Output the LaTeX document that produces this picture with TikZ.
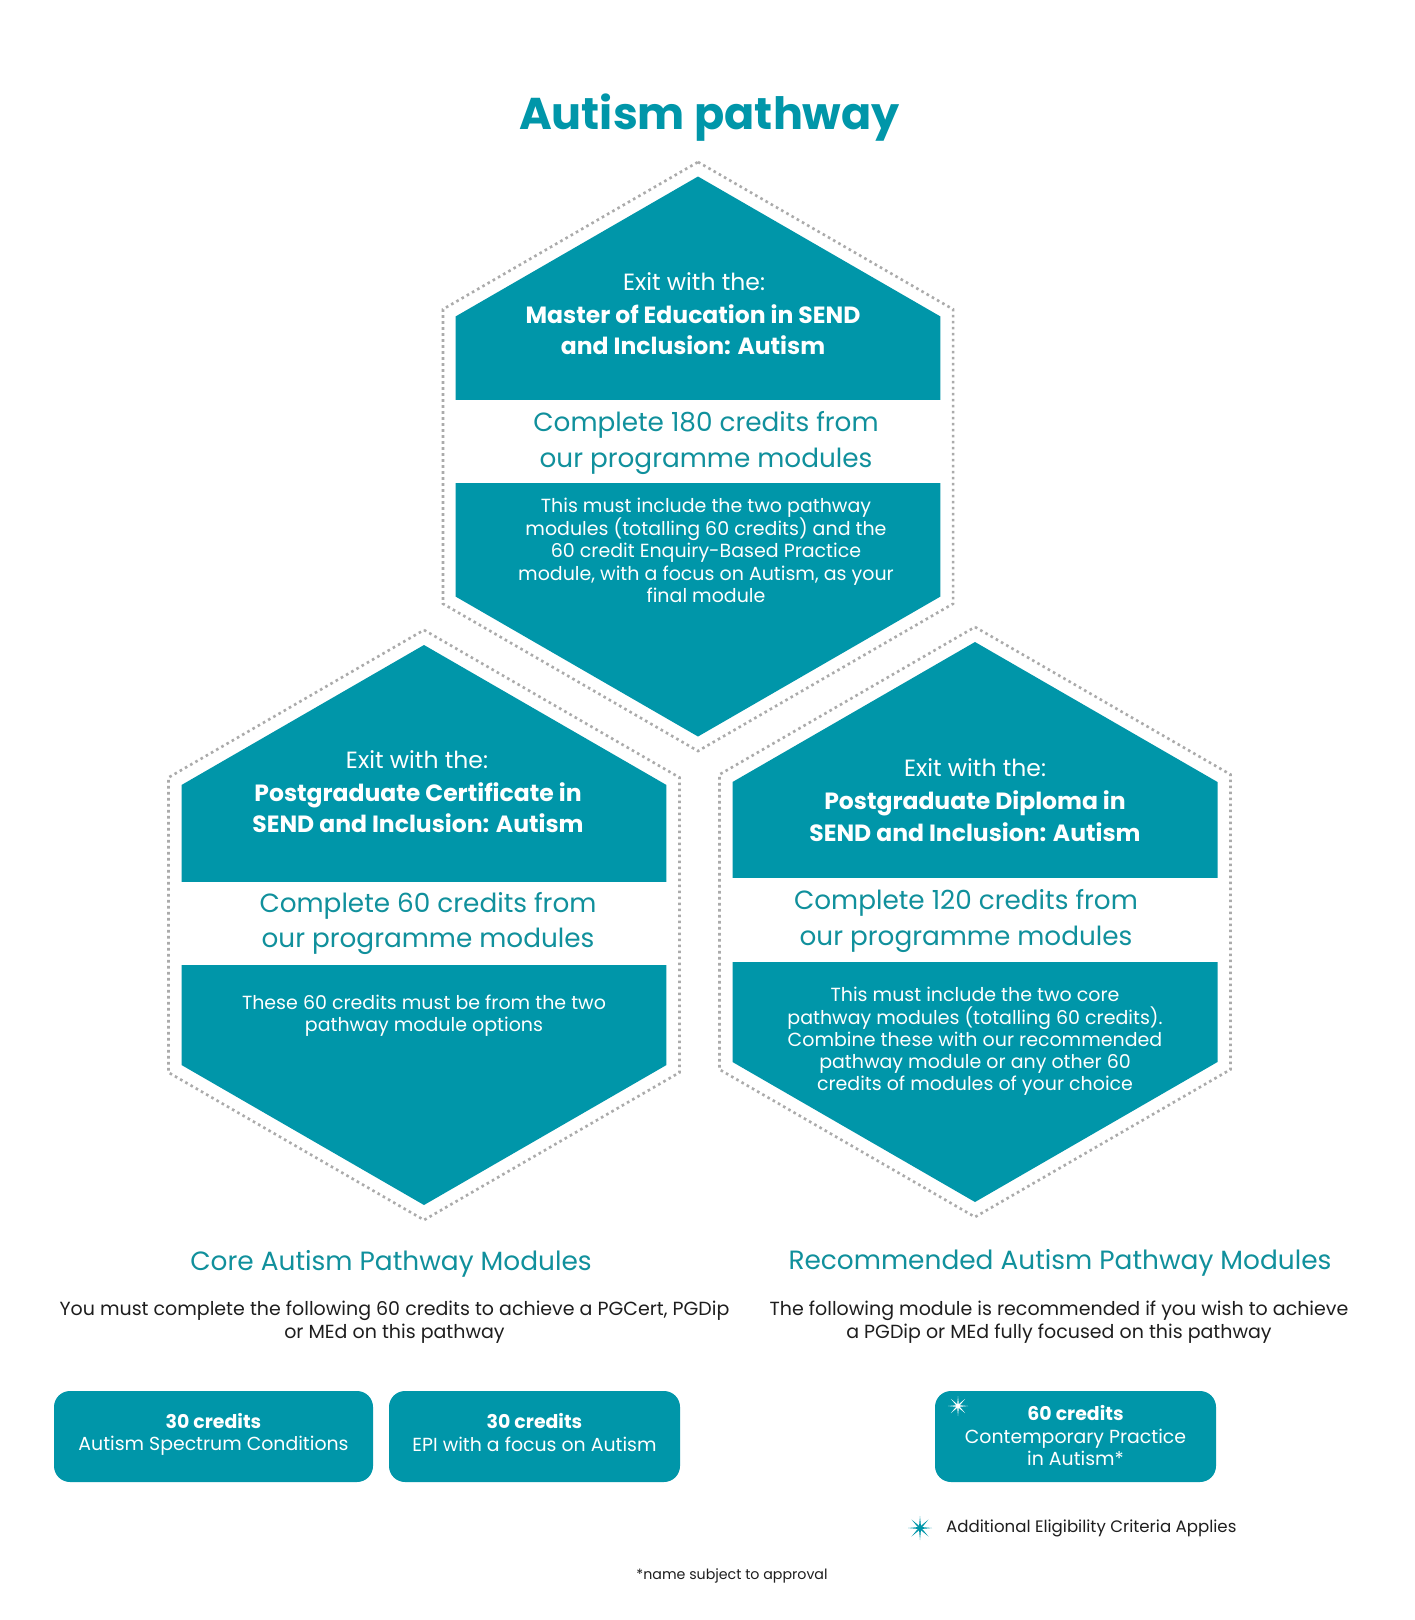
\documentclass[tikz,border=0pt]{standalone}
\usepackage{fontspec}
\setmainfont{Poppins}
\usetikzlibrary{shapes.geometric}
\definecolor{hexteal}{HTML}{0096A9}
\definecolor{headteal}{HTML}{10909C}
\definecolor{dotgray}{HTML}{ABABAB}
\definecolor{ink}{HTML}{1E1E1E}
\newcommand\hexpath[3]{(#1,{#2-#3}) -- ({#1+0.8660254*#3},{#2-0.5*#3}) -- ({#1+0.8660254*#3},{#2+0.5*#3}) -- (#1,{#2+#3}) -- ({#1-0.8660254*#3},{#2+0.5*#3}) -- ({#1-0.8660254*#3},{#2-0.5*#3}) -- cycle}
\newcommand\fs[2]{\fontsize{#1}{#2}\selectfont}
\begin{document}
\begin{tikzpicture}[x=1pt,y=-1pt,
  hexfill/.style={fill=hexteal},
  hexdots/.style={draw=dotgray, line width=2.6pt, dash pattern=on 2.6pt off 3.4pt},
  band/.style={fill=white},
  exittxt/.style={text=white, inner sep=0, align=center, font=\fs{23.5}{31.5}},
  titletxt/.style={text=white, inner sep=0, align=center, font=\fs{23.5}{31.5}\bfseries},
  reqtxt/.style={text=headteal, inner sep=0, align=center, font=\fs{26.3}{35.5}},
  bodytxt/.style={text=white, inner sep=0, align=center, font=\fs{19}{22.2}},
  headtxt/.style={text=headteal, inner sep=0, align=center, font=\fs{26.4}{30}},
  desctxt/.style={text=ink, inner sep=0, align=center, font=\fs{19}{23}},
  modbox/.style={fill=hexteal, rounded corners=16pt, inner sep=0},
  modtxt/.style={text=white, inner sep=0, align=center, font=\fs{18.9}{22.5}},
  sparkle/.style={star, star points=8, star point ratio=5, inner sep=0, draw=none},
  notetxt/.style={text=ink, inner sep=0, font=\fs{16.6}{20}}
]
\useasboundingbox[fill=white] (0,0) rectangle (1414,1620);

% title
\node[text=hexteal, inner sep=0, font=\fs{44.5}{50}\bfseries] (title) at (709.5,118) {Autism pathway};

% hexagons: dotted outlines
\draw[hexdots] \hexpath{698}{456.5}{294.5};
\draw[hexdots] \hexpath{424}{925}{295};
\draw[hexdots] \hexpath{975}{922}{295};
% hexagons: fills
\fill[hexfill] \hexpath{698}{456.5}{280};
\fill[hexfill] \hexpath{424}{925}{280};
\fill[hexfill] \hexpath{975}{922}{280};
% white bands
\fill[band] (455,399.5) rectangle (941,483);
\fill[band] (181,882) rectangle (667,965);
\fill[band] (732,878) rectangle (1218,962);

% top hexagon texts
\node[exittxt] (mexit) at (694,282) {Exit with the:};
\node[titletxt] (mtitle) at (693,329.5) {Master of Education in SEND\\and Inclusion: Autism};
\node[reqtxt] (mreq) at (706,443) {Complete 180 credits from\\our programme modules};
\node[bodytxt] (mbody) at (706,550) {This must include the two pathway\\modules (totalling 60 credits) and the\\60 credit Enquiry-Based Practice\\module, with a focus on Autism, as your\\final module};

% left hexagon texts
\node[exittxt] (cexit) at (417,760) {Exit with the:};
\node[titletxt] (ctitle) at (418,807.5) {Postgraduate Certificate in\\SEND and Inclusion: Autism};
\node[reqtxt] (creq) at (428,923.5) {Complete 60 credits from\\our programme modules};
\node[bodytxt] (cbody) at (424,1015.5) {These 60 credits must be from the two\\pathway module options};

% right hexagon texts
\node[exittxt] (dexit) at (975,768) {Exit with the:};
\node[titletxt] (dtitle) at (975,816) {Postgraduate Diploma in\\SEND and Inclusion: Autism};
\node[reqtxt] (dreq) at (966,921) {Complete 120 credits from\\our programme modules};
\node[bodytxt] (dbody) at (975,1041.5) {This must include the two core\\pathway modules (totalling 60 credits).\\Combine these with our recommended\\pathway module or any other 60\\credits of modules of your choice};

% core modules
\node[headtxt] (corehead) at (391,1264) {Core Autism Pathway Modules};
\node[desctxt] (coredesc) at (394.5,1322) {You must complete the following 60 credits to achieve a PGCert, PGDip\\or MEd on this pathway};
\node[modbox, minimum width=319pt, minimum height=91pt] (box1) at (213.5,1436.5) {};
\node[modtxt] (box1txt) at (box1.center) [yshift=2pt] {\textbf{30 credits}\\Autism Spectrum Conditions};
\node[modbox, minimum width=291pt, minimum height=91pt] (box2) at (534.5,1436.5) {};
\node[modtxt] (box2txt) at (box2.center) [yshift=4pt] {\textbf{30 credits}\\EPI with a focus on Autism};

% recommended modules
\node[headtxt] (rechead) at (1060,1263) {Recommended Autism Pathway Modules};
\node[desctxt] (recdesc) at (1059,1322.5) {The following module is recommended if you wish to achieve\\a PGDip or MEd fully focused on this pathway};
\node[modbox, minimum width=281pt, minimum height=91pt] (box3) at (1075.5,1436.5) {};
\node[modtxt] (box3txt) at (box3.center) [yshift=1pt] {\textbf{60 credits}\\Contemporary Practice\\in Autism*};
\node[sparkle, fill=white, minimum size=20pt] (star1) at (958,1406) {};

% legend and note
\node[sparkle, fill=hexteal, minimum size=24pt] (star2) at (920,1528) {};
\node[notetxt, anchor=west] (legend) at (946,1528) {Additional Eligibility Criteria Applies};
\node[text=ink, inner sep=0, font=\fs{14.2}{18}] (note) at (732,1576) {*name subject to approval};
\end{tikzpicture}
\end{document}
